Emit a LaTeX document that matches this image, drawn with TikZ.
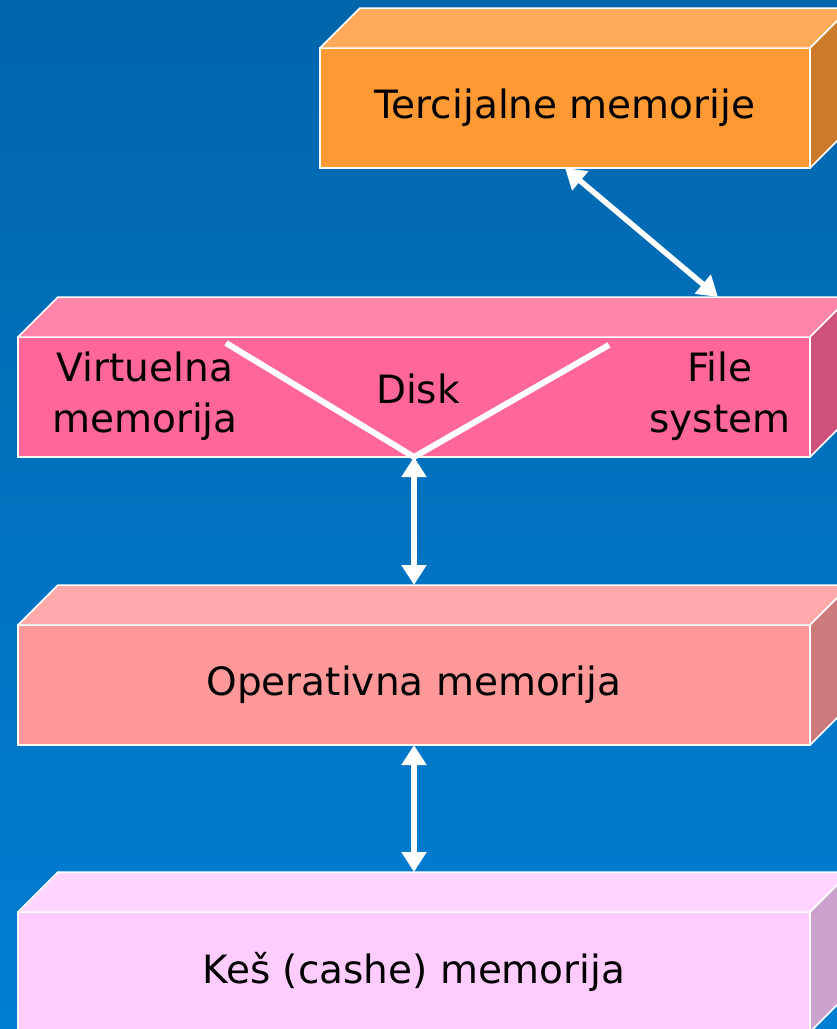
\documentclass[tikz,border=0pt]{standalone}
\usepackage{fontspec}
\setmainfont{DejaVu Sans}
\usepackage{tikz}
\usetikzlibrary{arrows.meta,positioning}

\definecolor{bgtop}{RGB}{0,102,172}
\definecolor{bgbot}{RGB}{0,126,210}
\definecolor{tercfront}{RGB}{255,153,51}
\definecolor{terctop}{RGB}{255,171,90}
\definecolor{tercside}{RGB}{204,122,43}
\definecolor{diskfront}{RGB}{255,102,153}
\definecolor{disktop}{RGB}{255,133,170}
\definecolor{diskside}{RGB}{204,82,122}
\definecolor{operfront}{RGB}{255,153,153}
\definecolor{opertop}{RGB}{255,170,170}
\definecolor{operside}{RGB}{204,122,122}
\definecolor{kesfront}{RGB}{255,204,255}
\definecolor{kestop}{RGB}{255,214,255}
\definecolor{kesside}{RGB}{204,163,204}

\begin{document}
\begin{tikzpicture}[x=1pt, y=-1pt, font=\fontsize{39}{51}\selectfont]
    % Define styles
    \tikzstyle{block} = [rectangle, draw=white, line width=1.5pt, minimum width=792pt, minimum height=120pt, inner sep=0pt, outer sep=0pt]
    \tikzstyle{face} = [draw=white, line width=1.5pt, line join=round]
    \tikzstyle{line} = [draw=white, line width=5.5pt, {Triangle[length=20pt,width=24pt]}-{Triangle[length=20pt,width=24pt]}]
    \tikzstyle{txt} = [align=center, inner sep=0pt]

    % Background
    \useasboundingbox (0,0) rectangle (837,1029);
    \shade [top color=bgtop, bottom color=bgbot] (0,0) rectangle (837,1029);

    % Place nodes
    \node [block, minimum width=490pt, fill=tercfront] (terc) at (565,108) {Tercijalne memorije};
    \node [block, fill=diskfront] (disk) at (414,397) {};
    \node [block, fill=operfront, below=168pt of disk] (oper) {Operativna memorija};
    \node [block, fill=kesfront, below=167pt of oper] (kes) {Keš (cashe) memorija};

    % 3D faces
    \foreach \n/\t/\s in {terc/terctop/tercside, disk/disktop/diskside, oper/opertop/operside, kes/kestop/kesside} {
        \draw [face, fill=\t] (\n.north west) -- ++(40,-40) -- ([shift={(40pt,40pt)}]\n.north east) -- (\n.north east) -- cycle;
        \draw [face, fill=\s] (\n.north east) -- ++(40,-40) -- ([shift={(40pt,40pt)}]\n.south east) -- (\n.south east) -- cycle;
    }

    % Disk contents
    \node [txt] (virt) at (145,396) {Virtuelna\\memorija};
    \node [txt] (disktxt) at (418,389) {Disk};
    \node [txt] (file) at (720,396) {File\\system};
    \coordinate (vl) at ([shift={(-188pt,114pt)}]disk.south);
    \coordinate (vr) at ([shift={(195pt,112pt)}]disk.south);
    \draw [white, line width=6pt] (vl) -- (disk.south) -- (vr);

    % Draw edges
    \coordinate (disk top) at ([shift={(304pt,40pt)}]disk.north);
    \coordinate (oper top) at ([yshift=40pt]oper.north);
    \coordinate (kes top) at ([yshift=40pt]kes.north);
    \path [line] (terc.south) -- (disk top);
    \path [line] (disk.south) -- (oper top);
    \path [line] (oper.south) -- (kes top);
\end{tikzpicture}
\end{document}
